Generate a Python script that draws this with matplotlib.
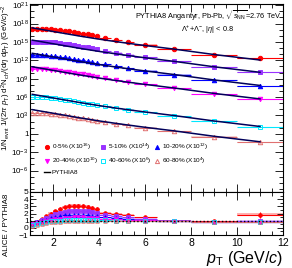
import numpy as np
import matplotlib.pyplot as plt
from matplotlib.lines import Line2D
from matplotlib.ticker import FixedLocator, FuncFormatter, MultipleLocator, NullFormatter

plt.rcParams['font.family'] = ['Liberation Sans', 'DejaVu Sans']
plt.rcParams['mathtext.fontset'] = 'custom'
plt.rcParams['mathtext.rm'] = 'Liberation Sans'
plt.rcParams['mathtext.it'] = 'Liberation Sans:italic'
plt.rcParams['mathtext.bf'] = 'Liberation Sans:bold'

# pT bins (GeV/c)
pt_edges = [1.0, 1.2, 1.4, 1.6, 1.8, 2.0, 2.2, 2.4, 2.6, 2.8, 3.0, 3.2, 3.4, 3.6,
            3.8, 4.0, 4.5, 5.0, 5.5, 6.5, 8.0, 10.0, 12.0]

# PYTHIA8 Angantyr spectra, log10 of scaled yield
pythia_0_5 = [17.30, 17.17, 17.04, 16.91, 16.78, 16.65, 16.52, 16.39, 16.26, 16.13, 16.00,
              15.88, 15.76, 15.64, 15.52, 15.32, 15.05, 14.79, 14.42, 13.84, 12.95, 12.05]
pythia_5_10 = [15.30, 15.17, 15.04, 14.91, 14.78, 14.65, 14.52, 14.39, 14.26, 14.13, 14.00,
               13.88, 13.76, 13.64, 13.52, 13.32, 13.05, 12.79, 12.42, 11.84, 10.95, 10.05]
pythia_10_20 = [13.15, 13.02, 12.89, 12.76, 12.63, 12.50, 12.37, 12.24, 12.11, 11.98, 11.85,
                11.73, 11.61, 11.49, 11.37, 11.17, 10.90, 10.64, 10.27, 9.69, 8.80, 7.90]
pythia_20_40 = [10.95, 10.82, 10.69, 10.56, 10.43, 10.30, 10.17, 10.04, 9.91, 9.78, 9.65,
                9.53, 9.41, 9.29, 9.17, 8.97, 8.70, 8.44, 8.07, 7.49, 6.60, 5.70]
pythia_40_60 = [6.45, 6.32, 6.19, 6.06, 5.93, 5.80, 5.67, 5.54, 5.41, 5.28, 5.15,
                5.03, 4.91, 4.79, 4.67, 4.47, 4.20, 3.94, 3.57, 2.99, 2.10, 1.20]
pythia_60_80 = [3.95, 3.82, 3.69, 3.56, 3.43, 3.30, 3.17, 3.04, 2.91, 2.78, 2.65,
                2.53, 2.41, 2.29, 2.17, 1.97, 1.70, 1.44, 1.07, 0.49, -0.40, -1.30]

# ALICE / PYTHIA8 ratios
ratio_0_5 = [0.55, 0.85, 1.2, 1.6, 2.0, 2.35, 2.65, 2.85, 3.0, 3.05, 3.05,
             3.0, 2.95, 2.75, 2.6, 2.1, 1.9, 1.75, 1.45, 1.0, 0.9, 1.8]
ratio_5_10 = [0.55, 0.8, 1.05, 1.35, 1.65, 1.9, 2.1, 2.25, 2.35, 2.4, 2.4,
              2.35, 2.3, 2.15, 2.05, 1.75, 1.6, 1.45, 1.25, 0.95, 0.85, 1.0]
ratio_10_20 = [0.55, 0.75, 0.95, 1.15, 1.35, 1.5, 1.65, 1.75, 1.8, 1.85, 1.85,
               1.8, 1.8, 1.7, 1.65, 1.45, 1.35, 1.25, 1.1, 0.95, 0.85, 0.75]
ratio_20_40 = [0.5, 0.7, 0.85, 1.0, 1.1, 1.2, 1.3, 1.35, 1.4, 1.45, 1.45,
               1.45, 1.4, 1.4, 1.35, 1.25, 1.2, 1.15, 1.05, 0.95, 0.85, 0.85]
ratio_40_60 = [0.4, 0.55, 0.7, 0.8, 0.9, 0.95, 1.0, 1.05, 1.1, 1.1, 1.1,
               1.1, 1.1, 1.1, 1.05, 1.05, 1.0, 1.0, 0.95, 0.9, 0.85, 0.85]
ratio_60_80 = [0.3, 0.45, 0.55, 0.65, 0.75, 0.8, 0.85, 0.9, 0.9, 0.95, 0.95,
               0.95, 0.95, 0.95, 0.95, 0.95, 0.95, 0.9, 0.9, 0.9, 0.85, 0.85]

# relative uncertainties
stat_rel = [0.01, 0.01, 0.01, 0.01, 0.01, 0.01, 0.01, 0.01, 0.01, 0.015, 0.015,
            0.02, 0.02, 0.025, 0.03, 0.03, 0.04, 0.05, 0.06, 0.08, 0.10, 0.18]
ratio_stat_rel = [0.08, 0.08, 0.08, 0.08, 0.08, 0.08, 0.08, 0.09, 0.09, 0.09, 0.09,
                  0.10, 0.10, 0.10, 0.10, 0.08, 0.08, 0.09, 0.09, 0.10, 0.12, 0.20]
syst_rel = [0.08, 0.07, 0.07, 0.07, 0.07, 0.07, 0.07, 0.07, 0.07, 0.07, 0.07,
            0.07, 0.07, 0.07, 0.08, 0.08, 0.08, 0.09, 0.09, 0.10, 0.11, 0.12]

labels = ['0-5% (X10$^{16}$)', '5-10% (X10$^{14}$)', '10-20% (X10$^{12}$)',
          '20-40% (X10$^{10}$)', '40-60% (X10$^{6}$)', '60-80% (X10$^{4}$)']
colors = ['#ff0000', '#9933ff', '#0000ff', '#ff00ff', '#00e8ff', '#e07070']
markers = ['o', 's', '^', 'v', 's', '^']
filled = [True, True, True, True, False, False]
pythia_all = [pythia_0_5, pythia_5_10, pythia_10_20, pythia_20_40, pythia_40_60, pythia_60_80]
ratio_all = [ratio_0_5, ratio_5_10, ratio_10_20, ratio_20_40, ratio_40_60, ratio_60_80]

edges = np.array(pt_edges)
pt = 0.5 * (edges[1:] + edges[:-1])
halfw = 0.5 * np.diff(edges)
stat = np.array(stat_rel)
rstat = np.array(ratio_stat_rel)
syst = np.array(syst_rel)

W, H = 292, 268
fig = plt.figure(figsize=(W / 100, H / 100), dpi=100)
ax1 = fig.add_axes([30 / W, 1 - 192 / H, 253 / W, 188 / H])
ax2 = fig.add_axes([30 / W, 1 - 235 / H, 253 / W, 43 / H])

handles = []
for i in range(6):
    py = 10 ** np.array(pythia_all[i])
    r = np.array(ratio_all[i])
    y = py * r
    c = colors[i]
    mfc = c if filled[i] else 'none'
    # systematic boxes
    ax1.bar(pt, 2 * y * syst, width=2 * halfw, bottom=y * (1 - syst), color=c,
            alpha=0.3, linewidth=0, zorder=1)
    ax1.errorbar(pt, y, xerr=halfw, yerr=y * stat, fmt=markers[i], color=c, mfc=mfc,
                 mec=c, ms=3.2, mew=0.7, elinewidth=0.8, capsize=0, zorder=2)
    ax1.plot(pt, py, color='#00005a', lw=1.1, zorder=3)

    ax2.bar(pt, 2 * r * syst, width=2 * halfw, bottom=r * (1 - syst), color=c,
            alpha=0.3, linewidth=0, zorder=1)
    ax2.errorbar(pt, r, xerr=halfw, yerr=r * rstat, fmt=markers[i], color=c, mfc=mfc,
                 mec=c, ms=2.6, mew=0.6, elinewidth=0.8, capsize=0, zorder=2)
    handles.append(Line2D([], [], ls='none', marker=markers[i], color=c, mfc=mfc,
                          mec=c, ms=3, mew=0.7, label=labels[i]))

ax2.axhline(1, color='black', ls=':', lw=1.0, zorder=4)

pyth_handle = Line2D([], [], color='black', lw=1.0, label='PYTHIA8')
order = [handles[0], handles[3], pyth_handle, handles[1], handles[4], handles[2], handles[5]]
ax1.legend(handles=order, ncol=3, loc='upper left', bbox_to_anchor=(0.045, 0.28),
           frameon=False, fontsize=4.6, handlelength=0.9, handletextpad=0.3,
           columnspacing=0.4, labelspacing=0.55, borderaxespad=0)

# axes styling
for ax in (ax1, ax2):
    ax.set_xlim(1, 12)
    ax.xaxis.set_major_locator(MultipleLocator(2))
    ax.xaxis.set_minor_locator(MultipleLocator(0.5))
    ax.tick_params(which='both', direction='in', top=True, right=True, width=0.6)
    for s in ax.spines.values():
        s.set_linewidth(0.8)

ax1.set_yscale('log')
ax1.set_ylim(10 ** -9.5, 10 ** 21.2)
ax1.yaxis.set_major_locator(FixedLocator([10.0 ** n for n in range(-6, 22, 3)]))
ax1.yaxis.set_minor_locator(FixedLocator([10.0 ** n for n in range(-9, 22)]))
ax1.yaxis.set_major_formatter(FuncFormatter(lambda v, p: '1' if round(np.log10(v)) == 0
                                            else r'$10^{%d}$' % round(np.log10(v))))
ax1.yaxis.set_minor_formatter(NullFormatter())
ax1.tick_params(axis='y', which='major', length=6, labelsize=5.8, pad=1)
ax1.tick_params(axis='y', which='minor', length=3)
ax1.tick_params(axis='x', which='major', length=6, labelbottom=False)
ax1.tick_params(axis='x', which='minor', length=3)

ax2.set_ylim(-1, 5)
ax2.yaxis.set_major_locator(MultipleLocator(1))
ax2.yaxis.set_minor_locator(MultipleLocator(0.5))
ax2.yaxis.set_minor_formatter(NullFormatter())
ax2.tick_params(axis='y', which='major', length=4, labelsize=6, pad=1)
ax2.tick_params(axis='y', which='minor', length=2)
ax2.tick_params(axis='x', which='major', length=6, labelsize=7.5, pad=2)
ax2.tick_params(axis='x', which='minor', length=3)

fig.text(283 / W, 1 - 258 / H, r'$p_{\rm T}$ (GeV/$c$)', ha='right', va='center', fontsize=11.5)
fig.text(6.5 / W, 1 - 4 / H,
         r'1/N$_{\rm evnt}$ 1/(2$\pi$ $p_{\rm T}$) d$^{2}$N$_{\rm ch}$/(d$\eta$ d$p_{\rm T}$) (GeV/$c$)$^{-2}$',
         rotation=90, ha='center', va='top', fontsize=5.7)
fig.text(6.5 / W, 1 - 194 / H, 'ALICE / PYTHIA8', rotation=90, ha='center', va='top', fontsize=5.7)

ax1.text(0.995, 0.935, r'PYTHIA8 Angantyr, Pb-Pb, $\sqrt{s_{\rm NN}}$=2.76 TeV',
         transform=ax1.transAxes, ha='right', va='center', fontsize=5.3)
ax1.text(0.70, 0.86, r'$\Lambda^{+}$+$\Lambda^{-}$, |$\eta$| < 0.8',
         transform=ax1.transAxes, ha='center', va='center', fontsize=5.3)

fig.savefig('out.png', dpi=100)
